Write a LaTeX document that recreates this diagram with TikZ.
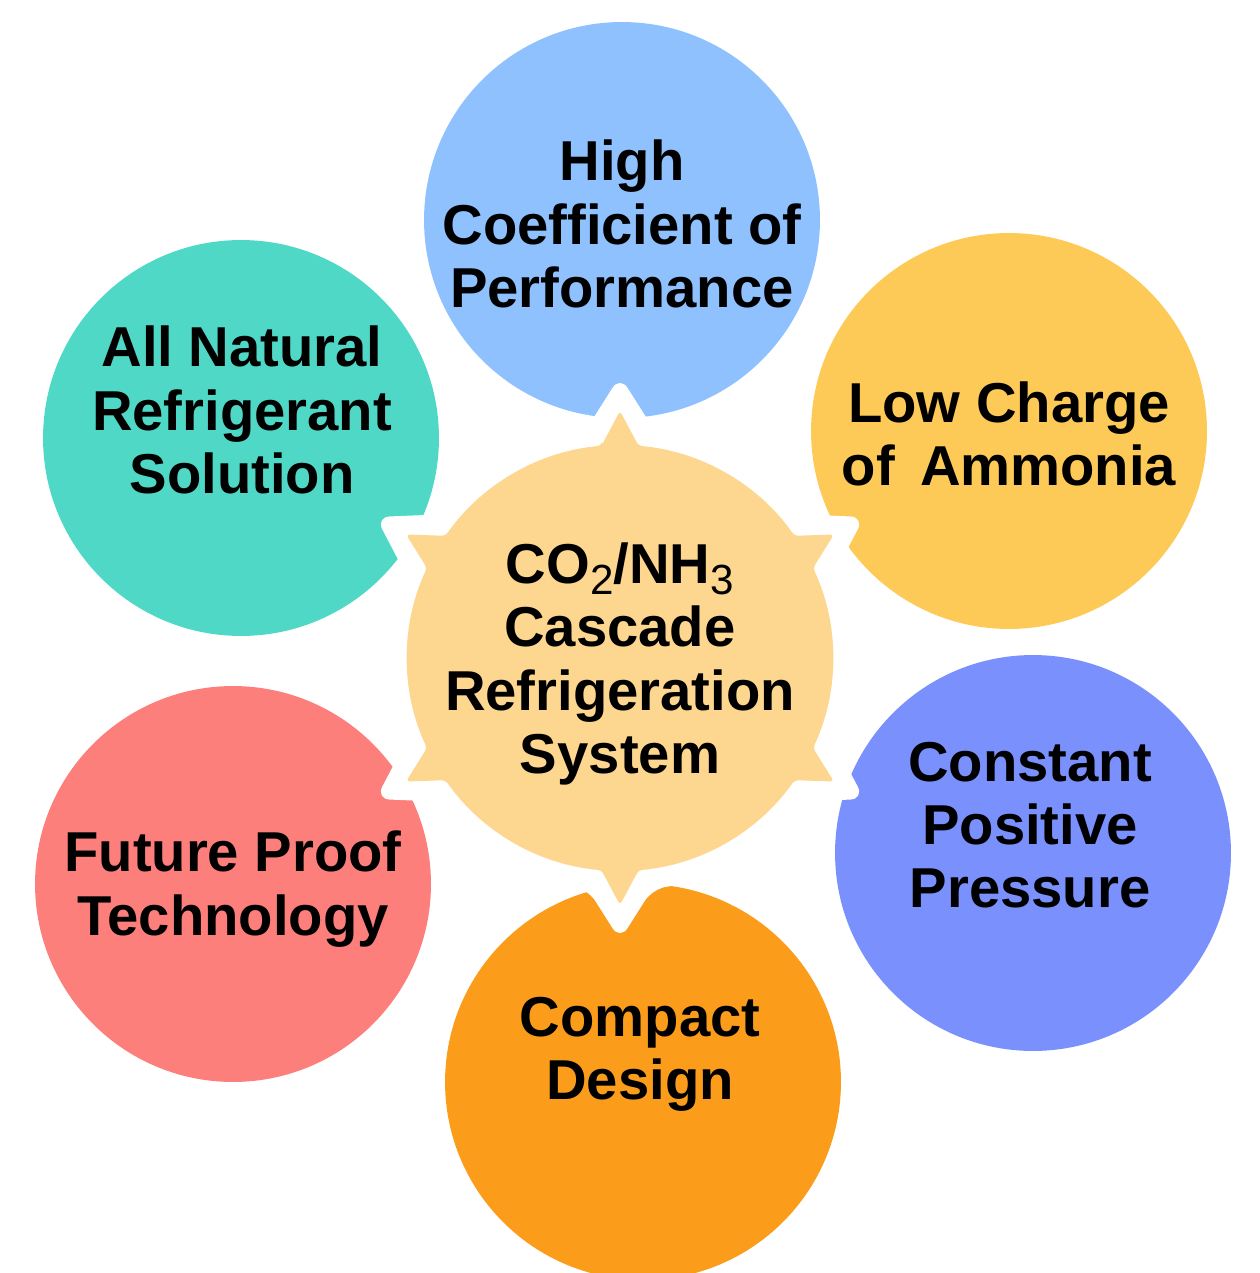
\documentclass[tikz,border=0pt]{standalone}
\usepackage{fontspec}
\setmainfont{Liberation Sans}

\definecolor{copblue}{HTML}{8EC1FD}
\definecolor{chargeyellow}{HTML}{FDCA58}
\definecolor{pressureblue}{HTML}{7A90FD}
\definecolor{compactorange}{HTML}{FB9C1B}
\definecolor{futurered}{HTML}{FD7F7B}
\definecolor{naturalteal}{HTML}{50D8C7}
\definecolor{hubfill}{HTML}{FDD690}

\newcommand{\lowidx}[1]{\raisebox{-0.35ex}{\mdseries\fontsize{24}{24}\selectfont #1}}

\begin{document}
\begin{tikzpicture}[x=0.02cm, y=0.02cm]

\tikzstyle bubble=[circle, minimum size=7.92cm, inner sep=0pt]
\tikzstyle caption=[align=center, text=black, font=\bfseries\fontsize{32}{36}\selectfont]

\useasboundingbox (0,0) rectangle (1259,-1273);

% outer bubbles
\node (cop) [bubble, fill=copblue] at (622,-220) {};
\node (charge) [bubble, fill=chargeyellow] at (1009,-431) {};
\node (pressure) [bubble, fill=pressureblue] at (1033,-853) {};
\node (compact) [bubble, fill=compactorange] at (643,-1082) {};
\node (future) [bubble, fill=futurered] at (233,-884) {};
\node (natural) [bubble, fill=naturalteal] at (241,-438) {};

% hub: white collar first, then the star itself
\begin{scope}[shift={(620,-658)}]
\fill [white, rounded corners=8] (98:233)
  \foreach \a in {90,150,...,390} {
    arc [start angle=\a+8, end angle=\a+52, radius=233]
    -- ({\a+60}:282) -- ({\a+68}:233)
  } -- cycle;
\fill [hubfill, rounded corners=2] (95:213)
  \foreach \a in {90,150,...,390} {
    arc [start angle=\a+5, end angle=\a+55, radius=213]
    -- ({\a+60}:247) -- ({\a+65}:213)
  } -- cycle;
\end{scope}

\node (hub) [caption] at (620,-664) {CO\lowidx{2}/NH\lowidx{3}\\Cascade\\Refrigeration\\System};

% captions
\node (copText) [caption] at (622,-224) {High\\Coefficient of\\Performance};
\node (chargeText) [caption] at (1009,-434) {Low Charge\\of\hspace{0.45em}Ammonia};
\node (pressureText) [caption] at (1030,-825) {Constant\\Positive\\Pressure};
\node (compactText) [caption] at (640,-1054) {Compact\\Design};
\node (futureText) [caption] at (233,-889) {Future Proof\\Technology};
\node (naturalText) [caption] at (242,-410) {All Natural\\Refrigerant\\Solution};

\end{tikzpicture}
\end{document}
